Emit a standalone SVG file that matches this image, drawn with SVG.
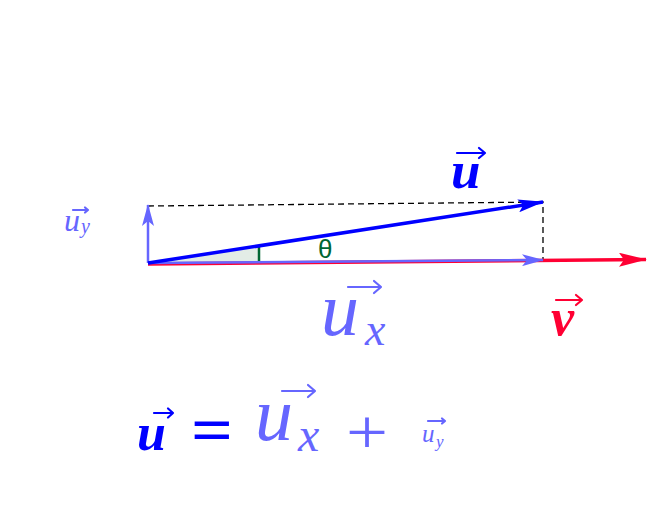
<svg xmlns="http://www.w3.org/2000/svg" width="663" height="518" viewBox="0 0 663 518">
<defs>
<style>
.m{font-family:"Liberation Serif","DejaVu Serif",serif;font-style:italic}
.b{font-weight:bold}
.acc{fill:none;stroke-width:2.2;stroke-linecap:round;stroke-linejoin:round}
</style>
<marker id="hu" markerWidth="26" markerHeight="13" refX="25" refY="6.5" orient="auto" markerUnits="userSpaceOnUse"><path d="M0,0 L26,6.5 L0,13 L5,6.5 Z" fill="#0000ff"/></marker>
<marker id="hl" markerWidth="22" markerHeight="12" refX="21" refY="6" orient="auto" markerUnits="userSpaceOnUse"><path d="M0,0 L22,6 L0,12 L5,6 Z" fill="#6666ff"/></marker>
<marker id="hr" markerWidth="28" markerHeight="14" refX="27" refY="7" orient="auto" markerUnits="userSpaceOnUse"><path d="M0,0 L28,7 L0,14 L5,7 Z" fill="#ff0033"/></marker>
</defs>
<rect width="663" height="518" fill="#ffffff"/>
<g id="angle">
<path d="M148,263 L259,247 L259,262 Z" fill="#e3ece6"/>
<path d="M259,247 L259,262" stroke="#006633" stroke-width="2.5" fill="none"/>
</g>
<g id="connectors">
<path d="M148,206 L543,202 L543,260" stroke="#000" stroke-width="1.3" stroke-dasharray="6,4" fill="none"/>
<line x1="148" y1="264" x2="646" y2="259.5" stroke="#ff0033" stroke-width="3.5" marker-end="url(#hr)"/>
<line x1="148" y1="263" x2="543" y2="260" stroke="#6666ff" stroke-width="2.5" marker-end="url(#hl)"/>
<line x1="148" y1="263" x2="148" y2="205" stroke="#6666ff" stroke-width="2.5" marker-end="url(#hl)"/>
<line x1="148" y1="263" x2="543" y2="202" stroke="#0000ff" stroke-width="3.5" marker-end="url(#hu)"/>
</g>
<g id="theta"><text x="318" y="258" font-family="Liberation Sans,DejaVu Sans,sans-serif" font-size="26" fill="#006633">θ</text></g>
<g id="label-u">
<text x="451" y="188" class="m b" font-size="53" fill="#0000ff">u</text>
<path class="acc" stroke="#0000ff" stroke-width="3" d="M457,153 L485,153 M479,148 L485,153 L479,158"/>
</g>
<g id="label-uy">
<text x="64" y="231" class="m" font-size="32" fill="#6666ff">u</text>
<text x="81" y="233" class="m" font-size="20" fill="#6666ff">y</text>
<path class="acc" stroke="#6666ff" stroke-width="1.5" d="M73,210 L88,210 M85,207.5 L88,210 L85,212.5"/>
</g>
<g id="label-ux">
<text x="321" y="335" class="m" font-size="76" fill="#6666ff">u</text>
<text x="365" y="345" class="m" font-size="46" fill="#6666ff">x</text>
<path class="acc" stroke="#6666ff" stroke-width="3" d="M348,287 L381,287 M374,281 L381,287 L374,293"/>
</g>
<g id="label-v">
<text x="551" y="335" class="m b" font-size="52" fill="#ff0033">v</text>
<path class="acc" stroke="#ff0033" stroke-width="3" d="M556,300 L582,300 M576,295 L582,300 L576,305"/>
</g>
<g id="equation">
<text x="137" y="450" class="m b" font-size="52" fill="#0000ff">u</text>
<path class="acc" stroke="#0000ff" stroke-width="3" d="M154,413 L173,413 M168,408.5 L173,413 L168,417.5"/>
<text x="191" y="452" font-family="Liberation Serif,serif" font-weight="bold" font-size="66" fill="#0000ff" textLength="42" lengthAdjust="spacingAndGlyphs">=</text>
<text x="255" y="440" class="m" font-size="76" fill="#6666ff">u</text>
<text x="298" y="451" class="m" font-size="48" fill="#6666ff">x</text>
<path class="acc" stroke="#6666ff" stroke-width="3" d="M282,391 L315,391 M308,385 L315,391 L308,397"/>
<text x="346" y="454" font-family="Liberation Serif,serif" font-size="64" fill="#6666ff" textLength="42" lengthAdjust="spacingAndGlyphs">+</text>
<text x="422" y="442" class="m" font-size="25" fill="#6666ff">u</text>
<text x="436" y="447" class="m" font-size="17" fill="#6666ff">y</text>
<path class="acc" stroke="#6666ff" stroke-width="1.5" d="M428,421 L445,421 M442,418.5 L445,421 L442,423.5"/>
</g>
</svg>
